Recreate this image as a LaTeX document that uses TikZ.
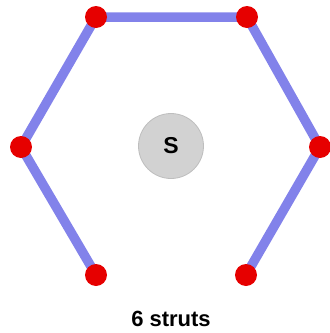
\documentclass[tikz,border=0pt]{standalone}
\usepackage{fontspec}
\setmainfont{Liberation Sans}
\definecolor{strut}{RGB}{130,130,234}
\definecolor{vred}{RGB}{230,0,0}
\definecolor{hubfill}{RGB}{210,210,210}
\definecolor{hubline}{RGB}{190,190,190}
\tikzset{
  vtx/.style={circle,fill=vred,inner sep=0pt,minimum size=22pt},
  strutline/.style={draw=strut,line width=9.5pt},
  hub/.style={circle,fill=hubfill,draw=hubline,line width=0.8pt,minimum size=65pt,inner sep=0pt,font=\bfseries\fontsize{23}{23}\selectfont},
  captext/.style={font=\bfseries\fontsize{22}{22}\selectfont}
}
\begin{document}
\begin{tikzpicture}[x=1pt,y=-1pt]
\useasboundingbox (0,0) rectangle (330,333);
\coordinate (p1) at (96,17);
\coordinate (p2) at (247,17);
\coordinate (p3) at (320,147);
\coordinate (p4) at (246,275);
\coordinate (p5) at (96,275);
\coordinate (p6) at (21,147);
\draw[strutline] (p5) -- (p6) -- (p1) -- (p2) -- (p3) -- (p4);
\foreach \p in {p1,p2,p3,p4,p5,p6} \node[vtx] (v\p) at (\p) {};
\node[hub] (s) at (171,146) {S};
\node[captext] (lbl) at (171,319) {6 struts};
\end{tikzpicture}
\end{document}
